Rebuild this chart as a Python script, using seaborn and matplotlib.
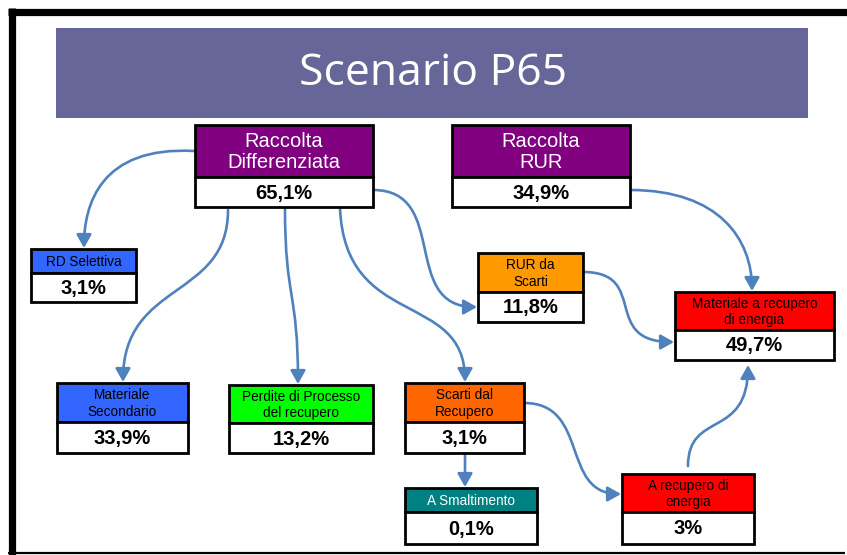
import matplotlib
matplotlib.use("Agg")
import matplotlib.pyplot as plt
import seaborn as sns
from matplotlib.patches import Rectangle, FancyArrowPatch
from matplotlib.path import Path

sns.set_theme(style="white")
plt.rcParams['font.family'] = ['Liberation Sans', 'DejaVu Sans']

# ---------- data ----------
title = "Scenario P65"
node_names = ["RD", "RUR", "RDSel", "RURScarti", "MatEnergia",
              "MatSec", "Perdite", "Scarti", "Smalt", "ARecupero"]
node_labels = ["Raccolta\nDifferenziata", "Raccolta\nRUR", "RD Selettiva",
               "RUR da\nScarti", "Materiale a recupero\ndi energia",
               "Materiale\nSecondario", "Perdite di Processo\ndel recupero",
               "Scarti dal\nRecupero", "A Smaltimento", "A recupero di\nenergia"]
node_values = ["65,1%", "34,9%", "3,1%", "11,8%", "49,7%",
               "33,9%", "13,2%", "3,1%", "0,1%", "3%"]
flows = [("RD", "RDSel"), ("RD", "MatSec"), ("RD", "Perdite"), ("RD", "Scarti"),
         ("RD", "RURScarti"), ("RUR", "MatEnergia"), ("RURScarti", "MatEnergia"),
         ("Scarti", "ARecupero"), ("Scarti", "Smalt"), ("ARecupero", "MatEnergia")]

# ---------- styles / layout (pixel space) ----------
header_colors = {"RD": "#800080", "RUR": "#800080", "RDSel": "#3366FF",
                 "RURScarti": "#FF9900", "MatEnergia": "#FF0000", "MatSec": "#3366FF",
                 "Perdite": "#00FF00", "Scarti": "#FF6600", "Smalt": "#008080",
                 "ARecupero": "#FF0000"}
white_text = {"RD", "RUR", "Smalt"}
big_header = {"RD", "RUR"}
# x0, x1, y_top, y_mid, y_bottom
boxes = {
    "RD": (195, 373, 125, 177, 207),
    "RUR": (452, 630, 125, 177, 207),
    "RDSel": (31, 136, 249, 273, 302),
    "RURScarti": (478, 583, 253, 292, 322),
    "MatEnergia": (675, 834, 292, 330, 360),
    "MatSec": (57, 188, 383, 422, 453),
    "Perdite": (229, 373, 385, 423, 453),
    "Scarti": (405, 524, 383, 422, 453),
    "Smalt": (405, 537, 488, 512, 544),
    "ARecupero": (622, 754, 474, 512, 544),
}
curves = {
    ("RD", "RDSel"): [(194, 151), (100, 146), (84, 205), (84, 248)],
    ("RD", "MatSec"): [(228, 210), (228, 300), (123, 280), (123, 382)],
    ("RD", "Perdite"): [(285, 208), (285, 300), (298, 290), (298, 384)],
    ("RD", "Scarti"): [(340, 208), (345, 330), (465, 290), (465, 382)],
    ("RD", "RURScarti"): [(373, 190), (450, 190), (400, 307), (477, 307)],
    ("RUR", "MatEnergia"): [(630, 190), (720, 190), (752, 240), (752, 291)],
    ("RURScarti", "MatEnergia"): [(583, 272), (650, 272), (600, 342), (674, 342)],
    ("Scarti", "ARecupero"): [(524, 403), (590, 403), (560, 494), (621, 494)],
    ("Scarti", "Smalt"): [(465, 455), (465, 465), (465, 475), (465, 487)],
    ("ARecupero", "MatEnergia"): [(688, 466), (688, 410), (748, 440), (748, 365)],
}
arrow_color = "#4F81BD"

fig = plt.figure(figsize=(8.47, 5.55), dpi=100)
ax = fig.add_axes([0, 0, 1, 1])
ax.set_xlim(0, 847)
ax.set_ylim(555, 0)
ax.axis("off")

# frame
ax.plot([8, 847], [11.5, 11.5], color="black", lw=5.2, solid_capstyle="butt")
ax.plot([11.5, 11.5], [8, 555], color="black", lw=5.2, solid_capstyle="butt")
ax.plot([8, 845], [552.5, 552.5], color="black", lw=1.6, solid_capstyle="butt")

# title banner
ax.add_patch(Rectangle((56, 28), 752, 90, facecolor="#666699", edgecolor="none"))
ax.text(433, 74, title, ha="center", va="center", color="white",
        fontsize=32, family=["Open Sans", "DejaVu Sans"])

# arrows
for src, dst in flows:
    pts = curves[(src, dst)]
    path = Path(pts, [Path.MOVETO, Path.CURVE4, Path.CURVE4, Path.CURVE4])
    arr = FancyArrowPatch(path=path, arrowstyle="-|>,head_length=8,head_width=4.5",
                          mutation_scale=1, color=arrow_color, lw=1.9, zorder=2)
    ax.add_patch(arr)

# boxes
for name, label, value in zip(node_names, node_labels, node_values):
    x0, x1, yt, ym, yb = boxes[name]
    ax.add_patch(Rectangle((x0, yt), x1 - x0, ym - yt, facecolor=header_colors[name],
                           edgecolor="black", lw=2, zorder=3))
    ax.add_patch(Rectangle((x0, ym), x1 - x0, yb - ym, facecolor="white",
                           edgecolor="black", lw=2, zorder=3))
    big = name in big_header
    ax.text((x0 + x1) / 2, (yt + ym) / 2 + 1, label, ha="center", va="center",
            color="white" if name in white_text else "black",
            fontsize=14.5 if big else 9.8, linespacing=1.12 if big else 1.25, zorder=4)
    ax.text((x0 + x1) / 2, (ym + yb) / 2 + 1, value, ha="center", va="center",
            color="black", fontsize=14.5, fontweight="bold", zorder=4)

fig.savefig("out.png", dpi=100)
